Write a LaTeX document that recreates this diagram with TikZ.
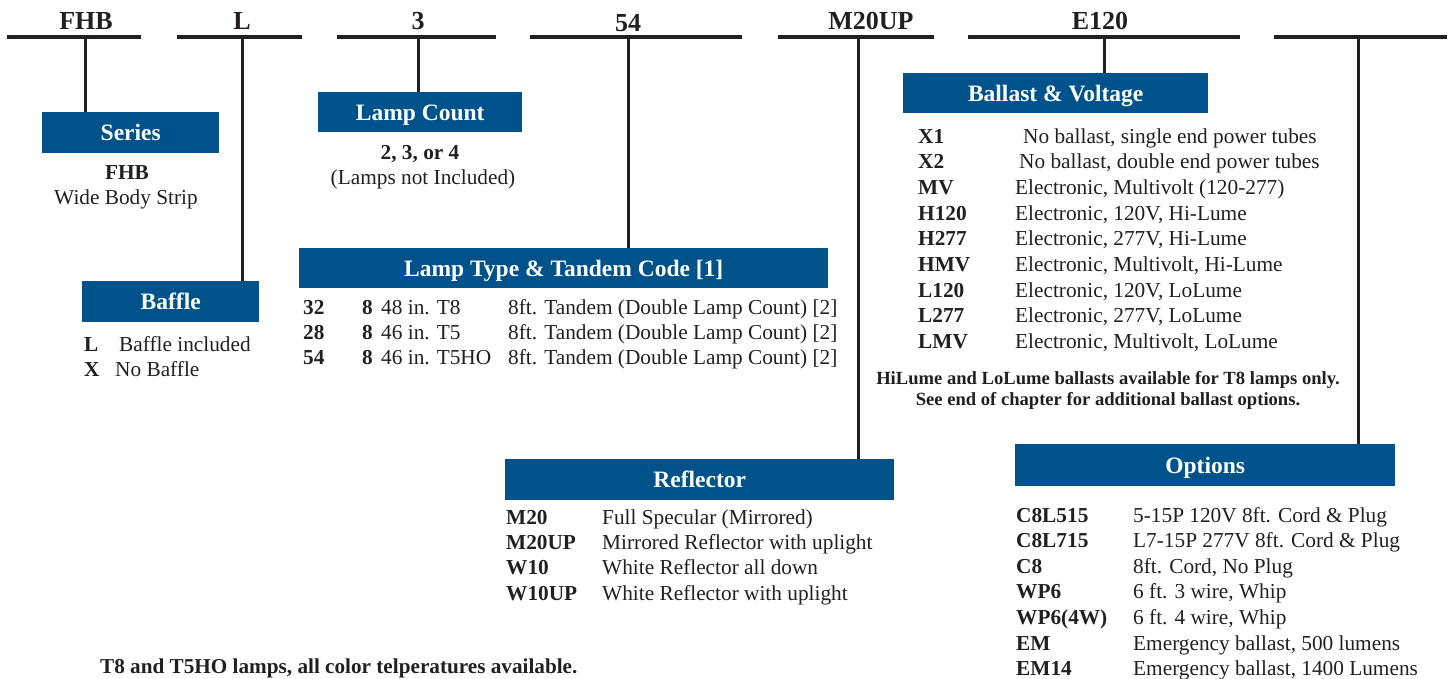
\documentclass[tikz,border=0pt]{standalone}
\usepackage{fontspec}
\setmainfont{Liberation Serif}
\definecolor{bluebox}{HTML}{00538A}
\definecolor{ink}{HTML}{231F20}
\begin{document}
\begin{tikzpicture}[x=1pt,y=-1pt,
  hdr/.style={font=\bfseries\fontsize{26}{28}\selectfont, text=ink, anchor=base, inner sep=0},
  bar/.style={line width=4pt, draw=ink},
  stem/.style={line width=3pt, draw=ink},
  title/.style={fill=bluebox, text=white, font=\bfseries\fontsize{23.5}{26}\selectfont, inner sep=0, text height=16.5pt, text depth=0pt, anchor=north west},
  code/.style={anchor=west, font=\bfseries\fontsize{21.3}{24}\selectfont, text=ink, text height=17pt, text depth=2pt, inner sep=0},
  desc/.style={anchor=west, font=\fontsize{21.3}{24}\selectfont, text=ink, text height=17pt, text depth=2pt, inner sep=0},
  ctext/.style={font=\fontsize{21.3}{24}\selectfont, text=ink, text height=17pt, text depth=2pt, inner sep=0},
  cbold/.style={font=\bfseries\fontsize{21.3}{24}\selectfont, text=ink, text height=17pt, text depth=2pt, inner sep=0},
  note/.style={font=\bfseries\fontsize{18.6}{22}\selectfont, text=ink, text height=15pt, text depth=2pt, inner sep=0}
]
\useasboundingbox (0,0) rectangle (1450,679);

% header bars
\coordinate (b1l) at (7,37);   \coordinate (b1r) at (141,37);
\coordinate (b2l) at (177,37); \coordinate (b2r) at (302,37);
\coordinate (b3l) at (337,37); \coordinate (b3r) at (496,37);
\coordinate (b4l) at (530,37); \coordinate (b4r) at (742,37);
\coordinate (b5l) at (778,37); \coordinate (b5r) at (934,37);
\coordinate (b6l) at (968,37); \coordinate (b6r) at (1240,37);
\coordinate (b7l) at (1274,37);\coordinate (b7r) at (1447,37);
\draw[bar] (b1l) -- (b1r);
\draw[bar] (b2l) -- (b2r);
\draw[bar] (b3l) -- (b3r);
\draw[bar] (b4l) -- (b4r);
\draw[bar] (b5l) -- (b5r);
\draw[bar] (b6l) -- (b6r);
\draw[bar] (b7l) -- (b7r);

\node[hdr] (h1) at (86,30) {FHB};
\node[hdr] (h2) at (242,30) {L};
\node[hdr] (h3) at (418,30) {3};
\node[hdr] (h4) at (628,32) {54};
\node[hdr] (h5) at (871,30) {M20UP};
\node[hdr] (h6) at (1100,30) {E120};

% junctions on bars
\coordinate (j1) at (85,37);
\coordinate (j2) at (242,37);
\coordinate (j3) at (418,37);
\coordinate (j4) at (628,37);
\coordinate (j5) at (858,37);
\coordinate (j6) at (1104,37);
\coordinate (j7) at (1358,37);

% Series
\node[title, minimum width=177pt, minimum height=41pt] (series) at (42,112) {Series};
\draw[stem] (j1) -- (j1 |- series.north);
\node[cbold] (s1) at (127,172) {FHB};
\node[ctext] (s2) at (126,197) {Wide Body Strip};

% Baffle
\node[title, minimum width=177pt, minimum height=41pt] (baffle) at (82,281) {Baffle};
\draw[stem] (j2) -- (j2 |- baffle.north);
\node[code] (bf1c) at (84,344) {L};
\node[desc] (bf1d) at (119,344) {Baffle included};
\node[code] (bf2c) at (84,369) {X};
\node[desc] (bf2d) at (115,369) {No Baffle};

% Lamp count
\node[title, minimum width=204pt, minimum height=40pt] (count) at (318,92) {Lamp Count};
\draw[stem] (j3) -- (j3 |- count.north);
\node[cbold] (c1) at (420,152) {2, 3, or 4};
\node[ctext] (c2) at (423,177) {(Lamps not Included)};

% Lamp type
\node[title, minimum width=529pt, minimum height=40pt] (ltype) at (299,248) {Lamp Type \& Tandem Code [1]};
\draw[stem] (j4) -- (j4 |- ltype.north);
\foreach \c/\d/\y/\n in {32/48 in. T8/307/1, 28/46 in. T5/332/2, 54/46 in. T5HO/357/3}{
  \node[code] (lt\n a) at (303,\y) {\c};
  \node[code] (lt\n b) at (362,\y) {8};
  \node[desc] (lt\n c) at (381,\y) {\d};
  \node[desc] (lt\n d) at (508,\y) {8ft. Tandem (Double Lamp Count) [2]};
}

% Reflector
\node[title, minimum width=389pt, minimum height=41pt] (refl) at (505,459) {Reflector};
\draw[stem] (j5) -- (j5 |- refl.north);
\foreach \c/\d/\y/\n in {M20/Full Specular (Mirrored)/517/1, M20UP/Mirrored Reflector with uplight/542/2, W10/White Reflector all down/567/3, W10UP/White Reflector with uplight/593/4}{
  \node[code] (rf\n a) at (506,\y) {\c};
  \node[desc] (rf\n b) at (602,\y) {\d};
}

% Ballast
\node[title, minimum width=305pt, minimum height=40pt] (ballast) at (903,73) {Ballast \& Voltage};
\draw[stem] (j6) -- (j6 |- ballast.north);
\node[code] (bl1a) at (918,136) {X1};
\node[desc] (bl1b) at (1023,136) {No ballast, single end power tubes};
\node[code] (bl2a) at (918,161) {X2};
\node[desc] (bl2b) at (1019,161) {No ballast, double end power tubes};
\foreach \c/\d/\y/\n in {MV/{Electronic, Multivolt (120-277)}/187/3, H120/{Electronic, 120V, Hi-Lume}/213/4, H277/{Electronic, 277V, Hi-Lume}/238/5, HMV/{Electronic, Multivolt, Hi-Lume}/264/6, L120/{Electronic, 120V, LoLume}/290/7, L277/{Electronic, 277V, LoLume}/315/8, LMV/{Electronic, Multivolt, LoLume}/341/9}{
  \node[code] (bl\n a) at (918,\y) {\c};
  \node[desc] (bl\n b) at (1015,\y) {\d};
}
\node[note] (bn1) at (1108,378) {HiLume and LoLume ballasts available for T8 lamps only.};
\node[note] (bn2) at (1108,399) {See end of chapter for additional ballast options.};

% Options
\node[title, minimum width=380pt, minimum height=42pt] (opts) at (1015,444) {Options};
\draw[stem] (j7) -- (j7 |- opts.north);
\foreach \c/\d/\y/\n in {C8L515/5-15P 120V 8ft. Cord \& Plug/515/1, C8L715/L7-15P 277V 8ft. Cord \& Plug/540/2, C8/{8ft. Cord, No Plug}/566/3, WP6/{6 ft. 3 wire, Whip}/591/4, WP6(4W)/{6 ft. 4 wire, Whip}/617/5, EM/{Emergency ballast, 500 lumens}/643/6, EM14/{Emergency ballast, 1400 Lumens}/668/7}{
  \node[code] (op\n a) at (1016,\y) {\c};
  \node[desc] (op\n b) at (1133,\y) {\d};
}

% bottom note
\node[note, anchor=west, font=\bfseries\fontsize{21.2}{24}\selectfont] (foot) at (100,667) {T8 and T5HO lamps, all color telperatures available.};
\end{tikzpicture}
\end{document}
